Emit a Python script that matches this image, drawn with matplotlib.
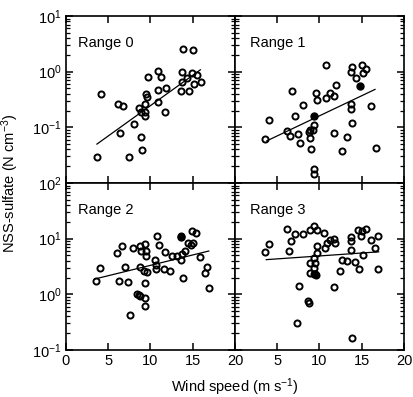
import matplotlib
matplotlib.use("Agg")
import matplotlib.pyplot as plt
from matplotlib.ticker import LogLocator, NullFormatter, FixedLocator

plt.rcParams['font.family'] = ['Liberation Sans', 'DejaVu Sans']
plt.rcParams['mathtext.fontset'] = 'custom'
plt.rcParams['mathtext.rm'] = 'Liberation Sans'
plt.rcParams['mathtext.it'] = 'Liberation Sans'

# ---------------- data ----------------
panel_names = ["Range 0", "Range 1", "Range 2", "Range 3"]

r0_x = [3.66, 4.16, 6.15, 6.7, 6.4, 7.4, 8.0, 8.64, 8.9, 9.3, 9.45, 9.6, 9.4, 9.4, 8.9, 8.95,
        9.73, 10.86, 11.2, 10.86, 10.86, 11.8, 11.75, 13.8, 15.06, 13.7, 13.7, 14.3, 14.9,
        15.45, 15.2, 16.0, 13.66, 14.5]
r0_y = [0.029, 0.39, 0.26, 0.24, 0.078, 0.029, 0.117, 0.22, 0.19, 0.26, 0.40, 0.35, 0.19, 0.16,
        0.067, 0.039, 0.80, 1.03, 0.80, 0.47, 0.29, 0.51, 0.19, 2.6, 2.5, 1.0, 0.66, 0.77, 0.96,
        0.87, 0.60, 0.65, 0.45, 0.45]
r0_fx = []
r0_fy = []
r0_line_x = [3.66, 15.9]
r0_line_y = [0.050, 1.08]

r1_x = [3.55, 4.06, 6.1, 6.45, 6.7, 7.1, 7.4, 7.67, 8.06, 8.7, 8.9, 8.9, 9.0, 9.2, 9.4,
        9.6, 9.7, 9.4, 9.4, 10.8, 10.8, 11.2, 11.75, 11.9, 11.7, 12.7, 13.3, 13.75, 13.7,
        13.8, 13.8, 13.7, 14.3, 15.0, 15.2, 15.5, 16.06, 16.65]
r1_y = [0.061, 0.136, 0.085, 0.069, 0.45, 0.16, 0.076, 0.053, 0.25, 0.082, 0.091, 0.064, 0.040,
        0.088, 0.11, 0.41, 0.31, 0.018, 0.0145, 1.3, 0.33, 0.41, 0.36, 0.57, 0.080, 0.037,
        0.067, 0.26, 0.21, 0.12, 1.2, 1.0, 0.77, 1.34, 0.94, 1.1, 0.24, 0.043]
r1_fx = [9.4, 14.8]
r1_fy = [0.16, 0.56]
r1_line_x = [3.75, 16.57]
r1_line_y = [0.057, 0.48]

r2_x = [3.54, 4.05, 6.03, 6.6, 6.3, 7.0, 7.3, 7.9, 7.55, 8.45, 8.64, 8.8, 9.3, 9.3, 9.3,
        8.75, 9.3, 8.9, 9.5, 9.5, 8.75, 9.2, 9.6, 10.74, 11.05, 11.7, 10.5, 10.7, 10.7, 11.6,
        12.3, 12.6, 13.15, 13.6, 13.7, 13.66, 13.8, 14.1, 14.4, 14.8, 15.06, 14.94, 15.4,
        15.9, 16.4, 16.7, 16.9]
r2_y = [1.72, 2.95, 5.6, 7.4, 1.72, 3.1, 1.67, 6.7, 0.43, 1.0, 0.96, 0.92, 0.85, 0.61, 1.58,
        7.4, 7.9, 6.0, 6.0, 4.8, 3.1, 2.6, 2.5, 11.1, 7.6, 5.8, 4.1, 3.4, 2.8, 2.9, 2.6, 4.8,
        4.8, 4.1, 5.3, 11.1, 1.96, 6.0, 8.3, 7.8, 8.3, 13.6, 12.4, 4.6, 2.45, 3.1, 1.32]
r2_fx = [13.66]
r2_fy = [10.5]
r2_line_x = [3.5, 16.9]
r2_line_y = [1.9, 6.0]

r3_x = [3.5, 4.06, 6.14, 6.65, 6.4, 7.1, 8.0, 8.85, 9.4, 9.7, 9.7, 9.7, 9.35, 8.9, 9.47,
        9.3, 8.9, 9.3, 9.6, 7.6, 8.6, 8.7, 7.35, 10.53, 10.85, 10.7, 11.3, 11.67, 11.8,
        11.75, 12.65, 13.2, 12.45, 13.75, 13.7, 13.7, 14.2, 14.7, 14.5, 15.0, 15.5, 14.9,
        15.2, 16.06, 16.6, 16.9, 16.96, 13.8]
r3_y = [5.8, 8.0, 14.8, 8.9, 6.1, 12.3, 12.0, 14.4, 16.7, 14.6, 7.4, 5.5, 4.5, 3.7, 3.7,
        2.97, 2.45, 2.36, 2.2, 1.44, 0.76, 0.69, 0.30, 12.4, 8.5, 6.9, 9.5, 10.0, 8.2, 1.36,
        4.2, 3.95, 2.6, 10.8, 8.9, 6.2, 3.8, 2.8, 14.6, 13.6, 15.2, 11.1, 5.0, 9.5, 6.7,
        11.1, 2.8, 0.166]
r3_fx = [9.5]
r3_fy = [2.3]
r3_line_x = [3.7, 17.0]
r3_line_y = [4.2, 5.8]

xs = [r0_x, r1_x, r2_x, r3_x]
ys = [r0_y, r1_y, r2_y, r3_y]
fxs = [r0_fx, r1_fx, r2_fx, r3_fx]
fys = [r0_fy, r1_fy, r2_fy, r3_fy]
lxs = [r0_line_x, r1_line_x, r2_line_x, r3_line_x]
lys = [r0_line_y, r1_line_y, r2_line_y, r3_line_y]

x_ticks = [0, 5, 10, 15, 20]
x_labels_left = ["0", "5", "10", "15", "20"]
x_labels_right = ["", "5", "10", "15", "20"]
top_ylim = (1e-2, 1e1)
bot_ylim = (1e-1, 1e2)
top_yticks = [1e-1, 1e0, 1e1]
top_ylabels = [r"$10^{-1}$", r"$10^{0}$", r"$10^{1}$"]
bot_yticks = [1e-1, 1e0, 1e1, 1e2]
bot_ylabels = [r"$10^{-1}$", r"$10^{0}$", r"$10^{1}$", r"$10^{2}$"]

# ---------------- figure ----------------
W, H = 414, 397
fig = plt.figure(figsize=(W / 100, H / 100), dpi=100)

x0, xm, x1 = 66, 235, 404
y0, ym, y1 = 16, 183, 350


def rect(l, t, r, b):
    return [l / W, 1 - b / H, (r - l) / W, (b - t) / H]


rects = [rect(x0, y0, xm, ym), rect(xm, y0, x1, ym),
         rect(x0, ym, xm, y1), rect(xm, ym, x1, y1)]
text_x = [0.07, 0.09, 0.07, 0.09]

for i in range(4):
    ax = fig.add_axes(rects[i])
    ax.set_yscale('log')
    ax.set_xlim(0, 20)
    ax.set_ylim(*(top_ylim if i < 2 else bot_ylim))
    ax.plot(xs[i], ys[i], linestyle='none', marker='o', ms=4.4,
            mfc='none', mec='black', mew=1.4, clip_on=False)
    if fxs[i]:
        ax.plot(fxs[i], fys[i], linestyle='none', marker='o', ms=5.0,
                mfc='black', mec='black', mew=1.0)
    ax.plot(lxs[i], lys[i], color='black', lw=0.9)
    ax.text(text_x[i], 0.84, panel_names[i], transform=ax.transAxes,
            fontsize=10.5, va='center', ha='left')

    for s in ax.spines.values():
        s.set_linewidth(1.2)

    ax.xaxis.set_major_locator(FixedLocator(x_ticks))
    ax.yaxis.set_minor_locator(LogLocator(base=10, subs=range(2, 10), numticks=20))
    ax.yaxis.set_minor_formatter(NullFormatter())
    ax.tick_params(which='both', direction='in', top=True, right=True,
                   labelsize=10.5, pad=3)
    ax.tick_params(which='major', length=5, width=1.1)
    ax.tick_params(which='minor', length=3, width=0.9)

    if i < 2:
        ax.set_xticklabels([])
    elif i == 2:
        ax.set_xticklabels(x_labels_left)
    else:
        ax.set_xticklabels(x_labels_right)

    if i == 0:
        ax.yaxis.set_major_locator(FixedLocator(top_yticks))
        ax.set_yticklabels(top_ylabels)
    elif i == 2:
        ax.yaxis.set_major_locator(FixedLocator(bot_yticks))
        ax.set_yticklabels(bot_ylabels)
    else:
        ax.yaxis.set_major_locator(FixedLocator(top_yticks if i < 2 else bot_yticks))
        ax.set_yticklabels([])

fig.text(10 / W, 1 - 183 / H, r"NSS-sulfate (N cm$^{-3}$)", rotation=90,
         ha='center', va='center', fontsize=10.5)
fig.text(235 / W, 1 - 387 / H, r"Wind speed (m s$^{-1}$)",
         ha='center', va='center', fontsize=10.5)

fig.savefig("out.png", dpi=100)
